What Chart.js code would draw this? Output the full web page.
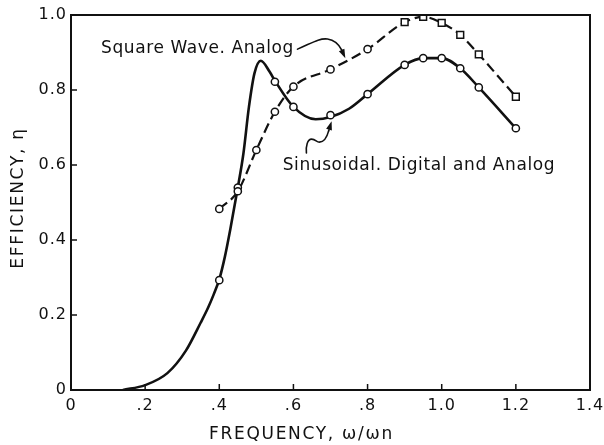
<!DOCTYPE html>
<html>
<head>
<meta charset="utf-8">
<script src="https://cdn.jsdelivr.net/npm/chart.js@4/dist/chart.umd.min.js"></script>
<style>
  html, body { margin: 0; padding: 0; background: #fff; }
  #box { width: 604px; height: 445px; }
</style>
</head>
<body>
<div id="box"><canvas id="myChart"></canvas></div>
<script>
let popCanvas = document.getElementById("myChart");

// ---------------- data (frequency w/wn, efficiency) ----------------

// sinusoidal drive, digital and analog: the drawn curve
let sineCurveX = [0.14, 0.2, 0.26, 0.31, 0.35, 0.37, 0.385, 0.4, 0.415, 0.43, 0.45, 0.465, 0.48, 0.495, 0.512, 0.535, 0.55, 0.6, 0.66, 0.7, 0.75, 0.8, 0.9, 0.95, 1.0, 1.05, 1.1, 1.2];
let sineCurveY = [0, 0.013, 0.045, 0.105, 0.18, 0.22, 0.255, 0.295, 0.355, 0.43, 0.54, 0.63, 0.755, 0.845, 0.878, 0.85, 0.825, 0.755, 0.722, 0.728, 0.75, 0.789, 0.867, 0.885, 0.885, 0.858, 0.807, 0.698];

// sinusoidal drive: measured points
let sineMarkX = [0.4, 0.45, 0.55, 0.6, 0.7, 0.8, 0.9, 0.95, 1.0, 1.05, 1.1, 1.2];
let sineMarkY = [0.293, 0.54, 0.822, 0.755, 0.733, 0.789, 0.867, 0.885, 0.885, 0.858, 0.807, 0.698];

// square wave, analog
let squareX = [0.4, 0.45, 0.5, 0.55, 0.6, 0.7, 0.8, 0.9, 0.95, 1.0, 1.05, 1.1, 1.2];
let squareY = [0.483, 0.53, 0.64, 0.742, 0.809, 0.855, 0.909, 0.981, 0.995, 0.979, 0.947, 0.895, 0.782];

let xTickValues = [0, 0.2, 0.4, 0.6, 0.8, 1.0, 1.2, 1.4];
let xTickLabels = ["0", ".2", ".4", ".6", ".8", "1.0", "1.2", "1.4"];
let yTickValues = [0, 0.2, 0.4, 0.6, 0.8, 1.0];
let yTickLabels = ["0", "0.2", "0.4", "0.6", "0.8", "1.0"];

let ink = "#111";

function toPoints(xs, ys) {
    return xs.map((x, i) => ({ x: x, y: ys[i] }));
}

// ---------------- annotation plugin ----------------

// curved leader arrows, in axis units
let squareArrow = {
    start: [0.611, 0.909],
    curves: [[0.646, 0.923, 0.668, 0.939, 0.692, 0.936],
             [0.711, 0.933, 0.722, 0.923, 0.730, 0.907]],
    tip: [0.740, 0.885]
};
let sineArrow = {
    start: [0.635, 0.632],
    curves: [[0.633, 0.651, 0.638, 0.669, 0.649, 0.669],
             [0.660, 0.669, 0.662, 0.661, 0.670, 0.661],
             [0.681, 0.661, 0.689, 0.669, 0.695, 0.691]],
    tip: [0.703, 0.717]
};

function drawArrow(chart, a) {
    let ctx = chart.ctx;
    let sx = chart.scales.x, sy = chart.scales.y;
    let P = (x, y) => [sx.getPixelForValue(x), sy.getPixelForValue(y)];
    ctx.save();
    ctx.strokeStyle = ink;
    ctx.fillStyle = ink;
    ctx.lineWidth = 1.6;
    ctx.lineCap = "round";
    ctx.beginPath();
    let s = P(a.start[0], a.start[1]);
    ctx.moveTo(s[0], s[1]);
    let last = s;
    a.curves.forEach(c => {
        let c1 = P(c[0], c[1]), c2 = P(c[2], c[3]), e = P(c[4], c[5]);
        ctx.bezierCurveTo(c1[0], c1[1], c2[0], c2[1], e[0], e[1]);
        last = e;
    });
    ctx.stroke();
    // arrow head
    let t = P(a.tip[0], a.tip[1]);
    let dx = t[0] - last[0], dy = t[1] - last[1];
    let len = Math.hypot(dx, dy);
    let ux = dx / len, uy = dy / len;
    let bx = t[0] - ux * 9, by = t[1] - uy * 9;
    ctx.beginPath();
    ctx.moveTo(last[0], last[1]);
    ctx.lineTo(bx, by);
    ctx.stroke();
    ctx.beginPath();
    ctx.moveTo(t[0], t[1]);
    ctx.lineTo(bx - uy * 3, by + ux * 3);
    ctx.lineTo(bx + uy * 3, by - ux * 3);
    ctx.closePath();
    ctx.fill();
    ctx.restore();
}

let paperPlugin = {
    id: "paper",
    beforeLayout(chart) {
        chart.ctx.letterSpacing = "1px";
    },
    beforeDraw(chart) {
        chart.ctx.letterSpacing = "1px";
    },
    afterDatasetsDraw(chart) {
        let ctx = chart.ctx;
        let area = chart.chartArea;
        let sx = chart.scales.x, sy = chart.scales.y;

        ctx.save();
        ctx.strokeStyle = ink;
        ctx.lineWidth = 2;
        // top and right edges of the frame
        ctx.beginPath();
        ctx.moveTo(area.left, area.top);
        ctx.lineTo(area.right, area.top);
        ctx.lineTo(area.right, area.bottom);
        ctx.stroke();

        // inward tick marks
        ctx.lineWidth = 1.5;
        ctx.beginPath();
        xTickValues.forEach(v => {
            let px = sx.getPixelForValue(v);
            ctx.moveTo(px, area.bottom);
            ctx.lineTo(px, area.bottom - 6);
        });
        yTickValues.forEach(v => {
            let py = sy.getPixelForValue(v);
            ctx.moveTo(area.left, py);
            ctx.lineTo(area.left + 6, py);
        });
        ctx.stroke();

        // curve labels
        ctx.fillStyle = ink;
        ctx.font = "17px 'DejaVu Sans'";
        ctx.letterSpacing = "0.6px";
        ctx.textAlign = "left";
        ctx.textBaseline = "alphabetic";
        ctx.fillText("Square Wave. Analog", sx.getPixelForValue(0.081), sy.getPixelForValue(0.899));
        ctx.fillText("Sinusoidal. Digital and Analog", sx.getPixelForValue(0.571), sy.getPixelForValue(0.587));

        // axis titles
        ctx.font = "17px 'DejaVu Sans'";
        ctx.letterSpacing = "1.7px";
        ctx.fillText("FREQUENCY, \u03c9/\u03c9n", 209, 439);
        ctx.translate(23, 198);
        ctx.rotate(-Math.PI / 2);
        ctx.textAlign = "center";
        ctx.fillText("EFFICIENCY, \u03b7", 0, 0);
        ctx.restore();

        drawArrow(chart, squareArrow);
        drawArrow(chart, sineArrow);
    }
};

// ---------------- chart ----------------

let lineChart = new Chart(popCanvas, {
    type: "scatter",
    data: {
        datasets: [
            {
                label: "Sinusoidal, Digital and Analog",
                data: toPoints(sineCurveX, sineCurveY),
                showLine: true,
                borderColor: ink,
                borderWidth: 2.6,
                cubicInterpolationMode: "monotone",
                pointRadius: 0,
                order: 3
            },
            {
                label: "Square Wave, Analog",
                data: toPoints(squareX, squareY),
                showLine: true,
                borderColor: ink,
                borderWidth: 2.2,
                borderDash: [10, 5],
                cubicInterpolationMode: "monotone",
                pointRadius: 0,
                order: 2
            },
            {
                label: "sine points",
                data: toPoints(sineMarkX, sineMarkY),
                pointStyle: "circle",
                pointRadius: 3.6,
                pointBorderWidth: 1.5,
                pointBackgroundColor: "#fff",
                pointBorderColor: ink,
                order: 1
            },
            {
                label: "square points",
                data: toPoints(squareX, squareY),
                pointStyle: ctx => (ctx.raw && ctx.raw.x >= 0.9 ? "rect" : "circle"),
                pointRadius: ctx => (ctx.raw && ctx.raw.x >= 0.9 ? 4.8 : 3.6),
                pointBorderWidth: 1.5,
                pointBackgroundColor: "#fff",
                pointBorderColor: ink,
                order: 0
            }
        ]
    },
    options: {
        responsive: true,
        maintainAspectRatio: false,
        animation: false,
        devicePixelRatio: 1,
        layout: { padding: { left: 0, right: 14, top: 15, bottom: 0 } },
        plugins: {
            legend: { display: false },
            tooltip: { enabled: false }
        },
        scales: {
            x: {
                type: "linear",
                min: 0,
                max: 1.4,
                afterBuildTicks: s => { s.ticks = xTickValues.map(v => ({ value: v })); },
                afterFit: s => { s.height = 55; s.paddingRight = 0; s.paddingLeft = 0; },
                grid: { display: false, drawTicks: false },
                border: { display: true, color: ink, width: 2 },
                ticks: {
                    color: ink,
                    padding: 6,
                    maxRotation: 0,
                    autoSkip: false,
                    font: { family: "'DejaVu Sans'", size: 16 },
                    callback: (v, i) => xTickLabels[i]
                }
            },
            y: {
                type: "linear",
                min: 0,
                max: 1,
                afterBuildTicks: s => { s.ticks = yTickValues.map(v => ({ value: v })); },
                afterFit: s => { s.width = 71; s.paddingTop = 0; s.paddingBottom = 0; },
                grid: { display: false, drawTicks: false },
                border: { display: true, color: ink, width: 2 },
                ticks: {
                    color: ink,
                    padding: 4,
                    autoSkip: false,
                    font: { family: "'DejaVu Sans'", size: 16 },
                    callback: (v, i) => yTickLabels[i]
                }
            }
        }
    },
    plugins: [paperPlugin]
});
</script>
</body>
</html>
